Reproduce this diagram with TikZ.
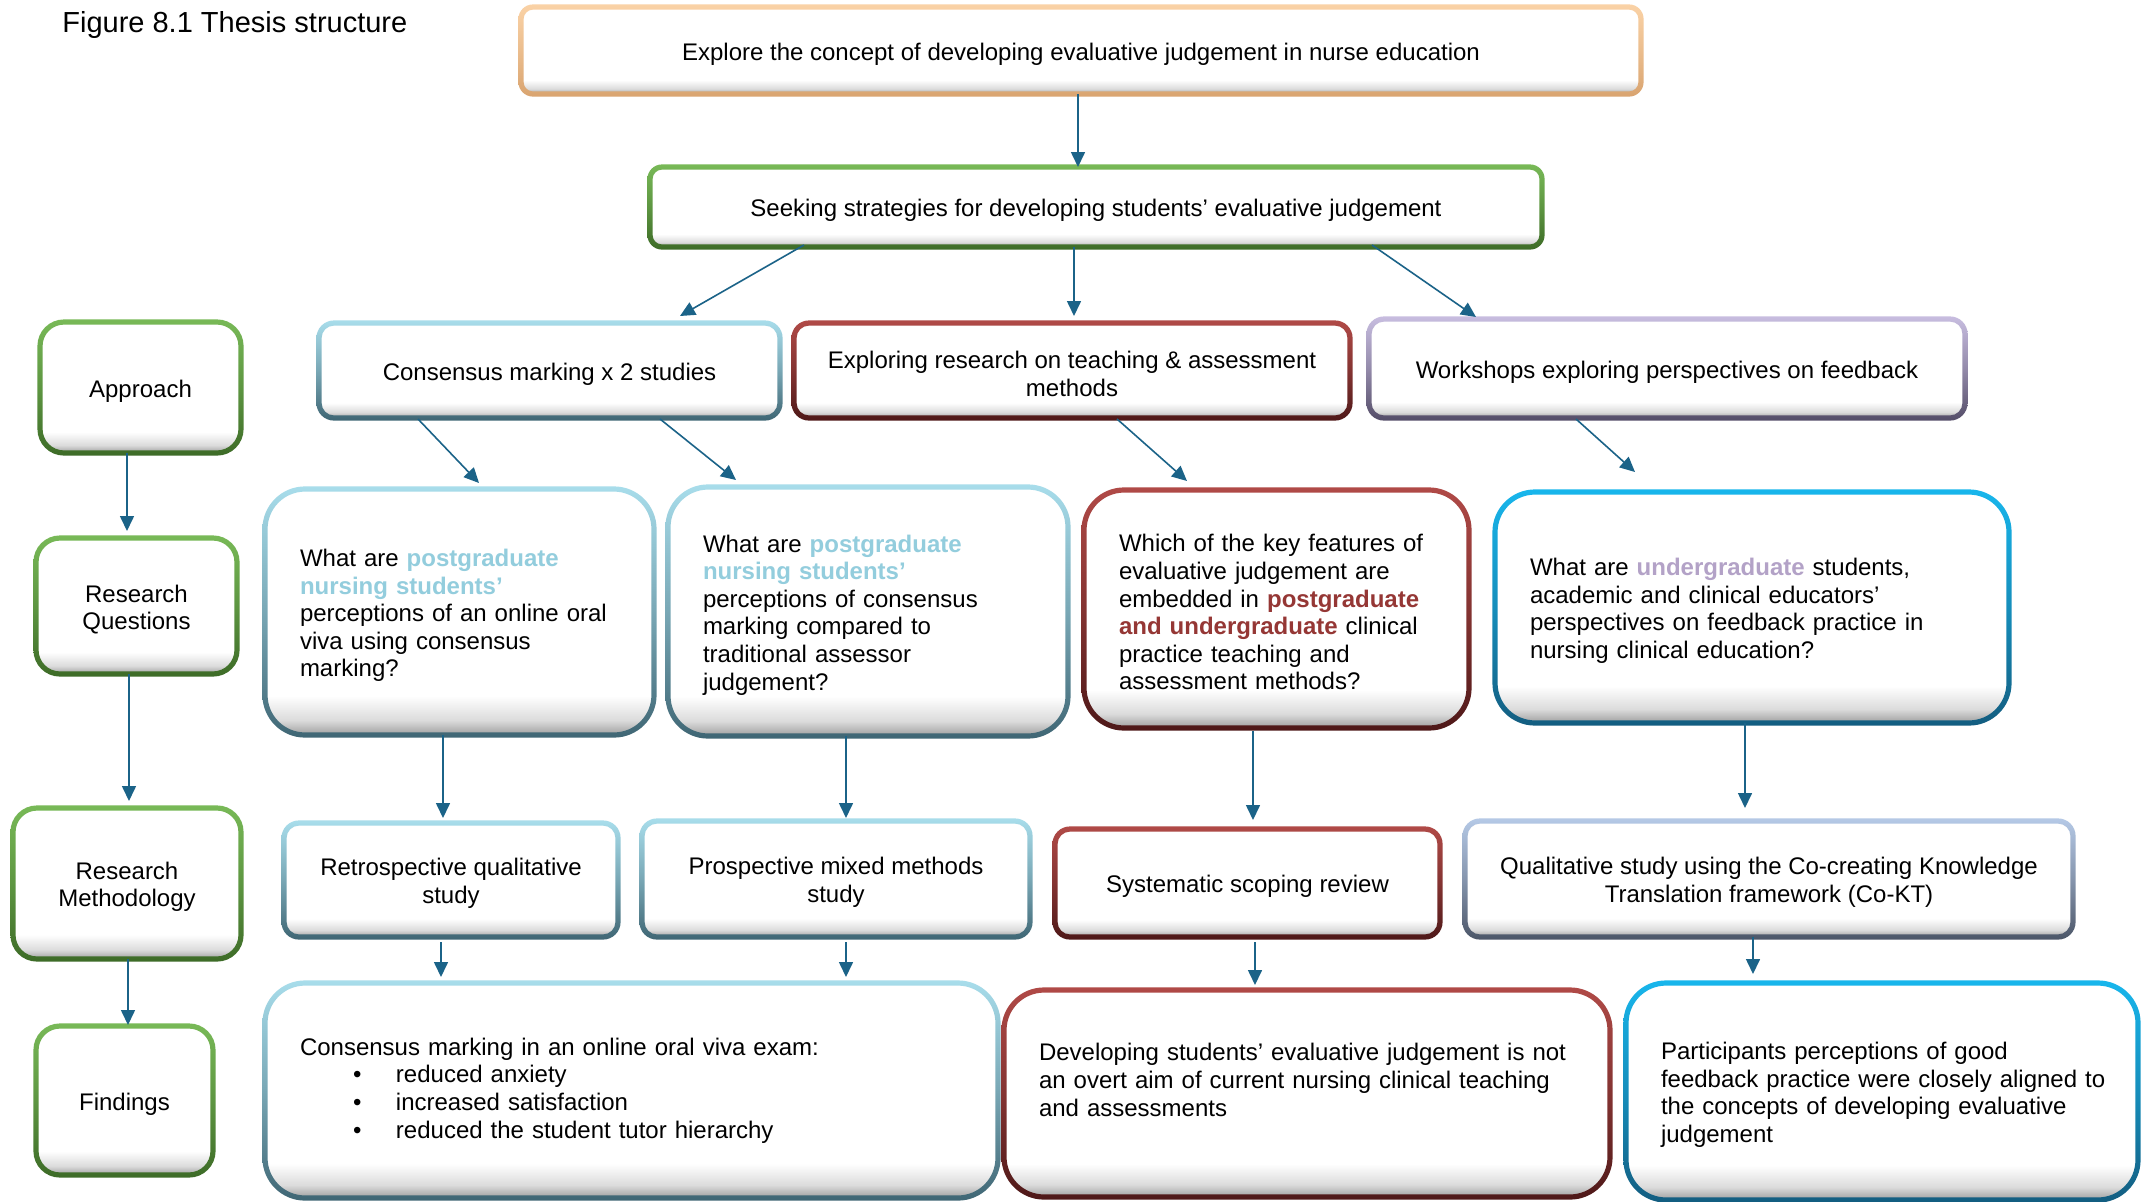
\documentclass[tikz,border=0pt]{standalone}
\usepackage{fontspec}
\setmainfont{Liberation Sans}
\usetikzlibrary{calc,arrows.meta}
\definecolor{arrc}{HTML}{1B6388}
\definecolor{orm}{HTML}{FAD2A6}\definecolor{ordk}{HTML}{D9A470}
\definecolor{grm}{HTML}{78B957}\definecolor{grdk}{HTML}{3D6B27}
\definecolor{lbm}{HTML}{A8DDEB}\definecolor{lbdk}{HTML}{3F6674}
\definecolor{rdm}{HTML}{B04A47}\definecolor{rddk}{HTML}{4E1818}
\definecolor{lvm}{HTML}{C8BDE0}\definecolor{lvdk}{HTML}{544D68}
\definecolor{bbm}{HTML}{18B6EC}\definecolor{bbdk}{HTML}{135D80}
\definecolor{stm}{HTML}{B5C9E6}\definecolor{stdk}{HTML}{4C5668}
\definecolor{hlblue}{HTML}{93CDDD}
\definecolor{hlred}{HTML}{953735}
\definecolor{hllav}{HTML}{B3A2C7}
\pgfdeclareverticalshading{bevel}{100bp}{color(0bp)=(black!38); color(25bp)=(black!38); color(28bp)=(black!14); color(33bp)=(white); color(100bp)=(white)}
\newcommand\boxfont{\fontsize{12}{13.8}\selectfont}
\newcommand\ring[3]{%
  \path[even odd rule, top color=#2m, bottom color=#2dk, middle color=#2m!55!#2dk,
        rounded corners=\dimexpr#3+1.3pt\relax]
    ($(#1.north west)+(-1.3pt,1.3pt)$) rectangle ($(#1.south east)+(1.3pt,-1.3pt)$)
    [rounded corners=\dimexpr#3-1.3pt\relax]
    ($(#1.north west)+(1.3pt,-1.3pt)$) rectangle ($(#1.south east)+(-1.3pt,1.3pt)$);}
\newcommand\tstrut{\rule{0pt}{12.1pt}}
\tikzset{
  bx/.style={shading=bevel, inner sep=0pt, outer sep=0pt, font=\boxfont, align=center},
  lt/.style={align=left, inner xsep=17.5pt, text width=#1},
  arr/.style={draw=arrc, line width=0.8pt, -{Triangle[length=7.5pt,width=7pt]}},
}
\begin{document}
\begin{tikzpicture}[x=0.5pt,y=-0.5pt]
\useasboundingbox (0,0) rectangle (2149,1201);
\fill[white] (0,0) rectangle (2149,1201);

\node[anchor=base west, inner sep=0pt, font=\fontsize{14.5}{17}\selectfont] (title) at (62,32) {Figure 8.1 Thesis structure};

% top
\node[bx, rounded corners=6pt, minimum width=560pt, minimum height=43.5pt] (T) at (1081,50.5)
  {\tstrut Explore the concept of developing evaluative judgement in nurse education};
\ring{T}{or}{6pt}
\node[bx, rounded corners=6pt, minimum width=446pt, minimum height=40pt] (S) at (1096,207)
  {\tstrut Seeking strategies for developing students’ evaluative judgement};
\ring{S}{gr}{6pt}

% left column
\node[bx, rounded corners=12pt, minimum width=100.5pt, minimum height=65.5pt] (A) at (140.5,387.5) {\tstrut Approach};
\ring{A}{gr}{12pt}
\node[bx, rounded corners=12pt, minimum width=100.5pt, minimum height=68pt] (RQ) at (136.5,606) {\tstrut Research\\Questions};
\ring{RQ}{gr}{12pt}
\node[bx, rounded corners=12pt, minimum width=114pt, minimum height=75.5pt] (RM) at (127,883.5) {\tstrut Research\\Methodology};
\ring{RM}{gr}{12pt}
\node[bx, rounded corners=12pt, minimum width=88.5pt, minimum height=74.5pt] (Fi) at (124.5,1100.5) {\tstrut Findings};
\ring{Fi}{gr}{12pt}

% approach row
\node[bx, rounded corners=7.5pt, minimum width=230.5pt, minimum height=47.5pt] (C) at (549.5,370.5) {\tstrut Consensus marking x 2 studies};
\ring{C}{lb}{7.5pt}
\node[bx, rounded corners=7.5pt, minimum width=278pt, minimum height=47.5pt] (E) at (1072,370.5) {\tstrut Exploring research on teaching \& assessment\\methods};
\ring{E}{rd}{7.5pt}
\node[bx, rounded corners=7.5pt, minimum width=298pt, minimum height=49.5pt] (W) at (1667,368.5) {\tstrut Workshops exploring perspectives on feedback};
\ring{W}{lv}{7.5pt}

% questions
\node[bx, lt=159.5pt, rounded corners=20pt, minimum height=123pt] (Q1) at (459.5,612)
  {\tstrut What are \textcolor{hlblue}{\bfseries postgraduate}\\\textcolor{hlblue}{\bfseries nursing students’}\\perceptions of an online oral\\viva using consensus\\marking?};
\ring{Q1}{lb}{20pt}
\node[bx, lt=165pt, rounded corners=20pt, minimum height=124.5pt] (Q2) at (868,611.5)
  {\tstrut What are \textcolor{hlblue}{\bfseries postgraduate}\\\textcolor{hlblue}{\bfseries nursing students’}\\perceptions of consensus\\marking compared to\\traditional assessor\\judgement?};
\ring{Q2}{lb}{20pt}
\node[bx, lt=157.5pt, rounded corners=20pt, minimum height=119pt] (Q3) at (1276.5,609)
  {\tstrut Which of the key features of\\evaluative judgement are\\embedded in \textcolor{hlred}{\bfseries postgraduate}\\\textcolor{hlred}{\bfseries and undergraduate} clinical\\practice teaching and\\assessment methods?};
\ring{Q3}{rd}{20pt}
\node[bx, lt=222pt, rounded corners=20pt, minimum height=115.5pt] (Q4) at (1752,607.5)
  {\tstrut What are \textcolor{hllav}{\bfseries undergraduate} students,\\academic and clinical educators’\\perspectives on feedback practice in\\nursing clinical education?};
\ring{Q4}{bb}{20pt}

% methodology
\node[bx, rounded corners=7.5pt, minimum width=167pt, minimum height=57pt] (M1) at (451,880) {\tstrut Retrospective qualitative\\study};
\ring{M1}{lb}{7.5pt}
\node[bx, rounded corners=7.5pt, minimum width=194pt, minimum height=58pt] (M2) at (836,879) {\tstrut Prospective mixed methods\\study};
\ring{M2}{lb}{7.5pt}
\node[bx, rounded corners=7.5pt, minimum width=192.5pt, minimum height=54pt] (M3) at (1247.5,883) {\tstrut Systematic scoping review};
\ring{M3}{rd}{7.5pt}
\node[bx, rounded corners=7.5pt, minimum width=304pt, minimum height=58pt] (M4) at (1769,879) {\tstrut Qualitative study using the Co-creating Knowledge\\Translation framework (Co-KT)};
\ring{M4}{st}{7.5pt}

% findings
\node[bx, lt=331.5pt, rounded corners=20pt, minimum height=107.5pt] (F1) at (631.5,1090.5)
  {Consensus marking in an online oral viva exam:\\
   \hspace*{26.5pt}\makebox[21.5pt][l]{•}reduced anxiety\\
   \hspace*{26.5pt}\makebox[21.5pt][l]{•}increased satisfaction\\
   \hspace*{26.5pt}\makebox[21.5pt][l]{•}reduced the student tutor hierarchy};
\ring{F1}{lb}{20pt}
\node[bx, lt=268pt, rounded corners=20pt, minimum height=103.5pt] (F2) at (1307,1093.5)
  {Developing students’ evaluative judgement is not\\an overt aim of current nursing clinical teaching\\and assessments\\\mbox{}};
\ring{F2}{rd}{20pt}
\node[bx, lt=221pt, rounded corners=20pt, minimum height=108.5pt] (F3) at (1882,1091.5)
  {\tstrut Participants perceptions of good\\\mbox{feedback practice were closely aligned to}\\the concepts of developing evaluative\\judgement};
\ring{F3}{bb}{20pt}

% connectors
\draw[arr] ($(T.south)+(-3,0)$) -- ($(S.north)+(-18,0)$);
\draw[arr] ($(S.south)+(-292,-2)$) -- ($(C.north)+(130.5,-7)$);
\draw[arr] ($(S.south)+(-22,0)$) -- ($(E.north)+(2,-7)$);
\draw[arr] ($(S.south)+(276,-2)$) -- ($(W.north)+(-191,-2)$);
\draw[arr] ($(C.south)+(-131.5,1)$) -- ($(Q1.north)+(19.5,-6)$);
\draw[arr] ($(C.south)+(110.5,1)$) -- ($(Q2.north)+(-132,-7)$);
\draw[arr] ($(E.south)+(45,1)$) -- ($(Q3.north)+(-89.5,-9)$);
\draw[arr] ($(W.south)+(-91,1)$) -- ($(Q4.north)+(-117,-20)$);
\draw[arr] ($(A.south)+(-13.5,0)$) -- ($(RQ.north)+(-9.5,-7)$);
\draw[arr] ($(RQ.south)+(-7.5,0)$) -- ($(RM.north)+(2,-7)$);
\draw[arr] ($(RM.south)+(1,0)$) -- ($(Fi.north)+(3.5,-1)$);
\draw[arr] ($(Q1.south)+(-16.5,0)$) -- ($(M1.north)+(-8,-5)$);
\draw[arr] ($(Q2.south)+(-22,0)$) -- ($(M2.north)+(10,-3)$);
\draw[arr] ($(Q3.south)+(-23.5,3)$) -- ($(M3.north)+(5.5,-9)$);
\draw[arr] ($(Q4.south)+(-7,0)$) -- ($(M4.north)+(-24,-13)$);
\draw[arr] ($(M1.south)+(-10,5)$) -- ($(F1.north)+(-190.5,-6)$);
\draw[arr] ($(M2.south)+(10,5)$) -- ($(F1.north)+(214.5,-6)$);
\draw[arr] ($(M3.south)+(7.5,5)$) -- ($(F2.north)+(-52,-5)$);
\draw[arr] ($(M4.south)+(-16,0)$) -- ($(F3.north)+(-129,-9)$);
\end{tikzpicture}
\end{document}
